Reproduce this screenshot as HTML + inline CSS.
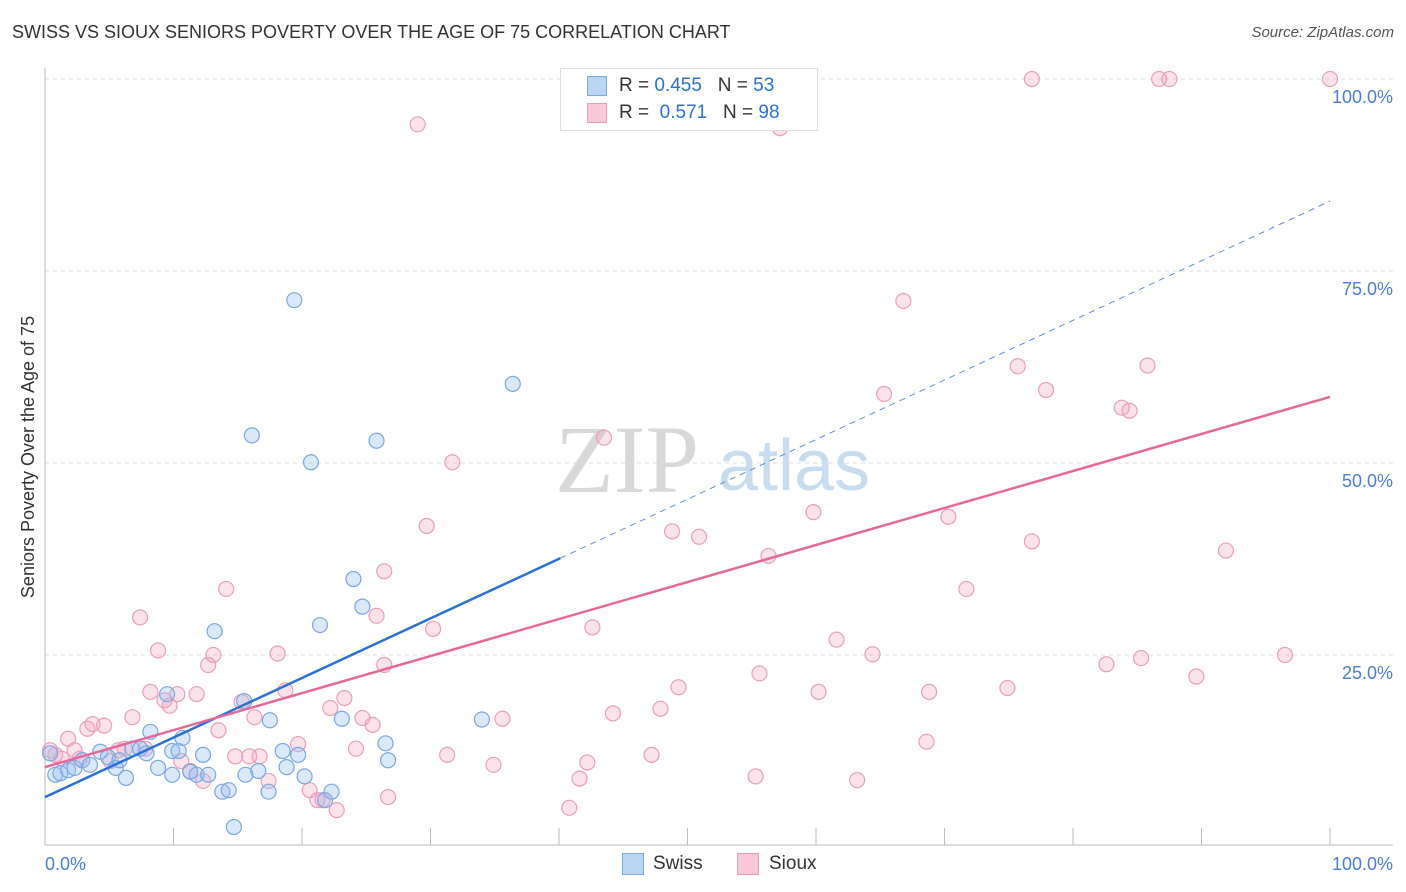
<!DOCTYPE html>
<html><head><meta charset="utf-8"><style>
body{margin:0;background:#fff;font-family:"Liberation Sans",sans-serif}
#wrap{position:relative;width:1406px;height:892px;overflow:hidden}
.t{position:absolute;white-space:nowrap}
</style></head><body>
<div id="wrap">
<div class="t" style="left:12px;top:22px;font-size:18px;color:#333">SWISS VS SIOUX SENIORS POVERTY OVER THE AGE OF 75 CORRELATION CHART</div>
<div class="t" style="right:12px;top:24px;font-size:15px;color:#555;font-style:italic">Source: ZipAtlas.com</div>
<svg id="svg" width="1406" height="892" style="position:absolute;left:0;top:0"></svg>
</div>
<script>
const swissX=[0.8,1.2,1.8,2.3,2.9,3.5,4.3,4.9,5.5,5.8,6.3,6.8,7.4,7.9,8.2,8.8,9.5,9.9,10.4,10.7,11.3,11.8,12.3,12.7,13.2,13.8,14.3,15.5,15.6,16.1,16.6,17.4,17.5,18.5,18.8,19.4,19.7,20.2,20.7,21.4,21.8,22.3,23.1,24.0,24.7,25.8,26.5,26.7,34.0,36.4,14.7,9.9,0.4];
const swissY=[9.4,9.6,10.0,10.3,11.3,10.7,12.4,11.7,10.3,11.3,9.0,12.8,12.8,12.2,15.0,10.3,19.9,12.5,12.5,14.2,9.8,9.4,12.0,9.4,28.1,7.2,7.4,19.0,9.4,53.6,9.9,7.2,16.5,12.5,10.4,71.2,12.0,9.2,50.1,28.9,6.1,7.2,16.7,34.9,31.3,52.9,13.5,11.3,16.6,60.3,2.6,9.4,12.2];
const siouxX=[0.4,0.8,1.3,1.8,2.3,2.7,3.3,3.7,4.6,5.1,5.7,6.2,6.8,7.4,7.8,8.2,8.8,9.3,9.7,10.3,10.6,11.3,11.8,12.3,12.7,13.1,13.5,14.1,14.8,15.3,15.9,16.3,16.7,17.4,18.1,18.7,19.7,20.6,21.2,21.6,22.2,22.7,23.3,24.2,24.7,25.5,26.4,25.8,26.4,26.7,29.0,29.7,30.2,31.3,31.7,34.9,35.6,40.8,41.6,42.2,42.6,43.5,44.2,47.2,47.9,48.8,49.3,50.9,55.3,55.6,56.3,57.2,59.8,60.2,61.6,63.2,64.4,65.3,66.8,68.6,68.8,70.3,71.7,74.9,75.7,76.8,76.8,77.9,82.6,83.8,84.4,85.3,85.8,86.7,87.5,89.6,91.9,96.5,100.0];
const siouxY=[12.6,12.0,11.5,14.1,12.6,11.5,15.4,16.0,15.8,11.2,12.6,12.8,16.9,29.9,12.8,20.2,25.6,19.1,18.4,19.9,11.2,9.9,19.9,8.6,23.7,25.0,15.2,33.6,11.8,18.9,11.8,16.9,11.8,8.6,25.2,20.4,13.4,7.4,6.1,6.1,18.1,4.8,19.4,12.8,16.8,15.9,35.9,30.1,23.7,6.5,94.1,41.8,28.4,12.0,50.1,10.7,16.7,5.1,8.9,11.0,28.6,53.3,17.4,12.0,18.0,41.1,20.8,40.4,9.2,22.6,37.9,93.6,43.6,20.2,27.0,8.7,25.1,59.0,71.1,13.7,20.2,43.0,33.6,20.7,62.6,100,39.8,59.5,23.8,57.2,56.8,24.6,62.7,100,100,22.2,38.6,25.0,100];
const yTicks=[25,50,75,100];
const svg=document.getElementById('svg');const NS='http://www.w3.org/2000/svg';
const X=v=>45+v*12.85, Y=v=>847-v*7.68;
function el(t,a,name,par){const e=document.createElementNS(NS,t);for(const k in a)e.setAttribute(k,a[k]);


(par||svg).appendChild(e);return e;}
// watermark
let w=el('text',{x:555,y:492,'font-size':96,fill:'#d8d8d8','font-family':'Liberation Serif'},'watermark-zip');w.textContent='ZIP';
w=el('text',{x:718,y:490,'font-size':72,fill:'#c8dcf0','font-family':'Liberation Sans'},'watermark-atlas');w.textContent='atlas';
yTicks.forEach(v=>{el('line',{x1:45,x2:1393,y1:Y(v),y2:Y(v),stroke:'#ddd','stroke-dasharray':'4,4'},'gridline');
const t=el('text',{x:1393,y:Y(v)+24,'text-anchor':'end','font-size':18,fill:'#4a7fd4'},'y-tick-label');t.textContent=v.toFixed(1)+'%';});
el('line',{x1:45,x2:45,y1:68,y2:845,stroke:'#bbb'},'y-axis');
el('line',{x1:45,x2:1393,y1:845,y2:845,stroke:'#bbb'},'x-axis');
for(let i=0;i<=10;i++)el('line',{x1:X(i*10),x2:X(i*10),y1:828,y2:845,stroke:'#bbb'},'x-tick');
let t=el('text',{x:45,y:870,'font-size':18,fill:'#4a7fd4'},'x-tick-label');t.textContent='0.0%';
t=el('text',{x:1393,y:870,'text-anchor':'end','font-size':18,fill:'#4a7fd4'},'x-tick-label');t.textContent='100.0%';
t=el('text',{x:34,y:457,'font-size':18,fill:'#333','text-anchor':'middle',transform:'rotate(-90 34 457)'},'y-axis-title');t.textContent='Seniors Poverty Over the Age of 75';
siouxX.forEach((x,i)=>el('circle',{cx:X(x),cy:Y(siouxY[i]),r:7.5,fill:'rgba(244,160,190,0.3)',stroke:'#eaa0bb','stroke-width':1.2},'sioux-point'));
swissX.forEach((x,i)=>el('circle',{cx:X(x),cy:Y(swissY[i]),r:7.5,fill:'rgba(150,190,240,0.35)',stroke:'#7aa8e0','stroke-width':1.2},'swiss-point'));
el('line',{x1:X(0),y1:Y(6.5),x2:X(40.1),y2:Y(37.6),stroke:'#2b72d6','stroke-width':2.5},'swiss-trendline');
el('line',{x1:X(40.1),y1:Y(37.6),x2:X(100),y2:Y(84.1),stroke:'#5b8fdc','stroke-width':1,'stroke-dasharray':'6,5'},'swiss-trendline-extension');
el('line',{x1:X(0),y1:Y(10.4),x2:X(100),y2:Y(58.6),stroke:'#e8689a','stroke-width':2.5},'sioux-trendline');
</script>
<div class="t" style="left:560px;top:68px;width:256px;height:61px;border:1px solid #ddd;background:#fff;font-size:19px">
<div style="position:absolute;left:26px;top:7px;width:18px;height:18px;background:#bcd5f5;border:1px solid #7aa8e0"></div>
<div style="position:absolute;left:58px;top:6px;color:#333">R = <span style="color:#2b72d6">0.455</span>&nbsp;&nbsp;&nbsp;N = <span style="color:#2b72d6">53</span></div>
<div style="position:absolute;left:26px;top:34px;width:18px;height:18px;background:#f8c8d8;border:1px solid #eaa0bb"></div>
<div style="position:absolute;left:58px;top:33px;color:#333">R = &nbsp;<span style="color:#2b72d6">0.571</span>&nbsp;&nbsp;&nbsp;N = <span style="color:#2b72d6">98</span></div>
</div>
<div class="t" style="left:622px;top:853px;width:20px;height:20px;background:#bcd5f5;border:1px solid #7aa8e0"></div>
<div class="t" style="left:653px;top:853px;font-size:19px;color:#333">Swiss</div>
<div class="t" style="left:737px;top:853px;width:20px;height:20px;background:#f8c8d8;border:1px solid #eaa0bb"></div>
<div class="t" style="left:769px;top:853px;font-size:19px;color:#333">Sioux</div>
</body></html>
